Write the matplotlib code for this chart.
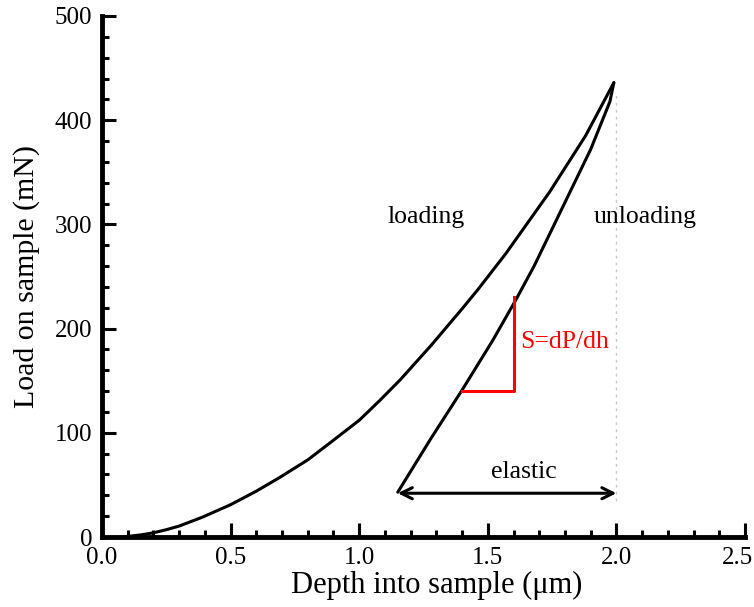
import matplotlib
matplotlib.use("Agg")
import matplotlib.pyplot as plt
from matplotlib.ticker import MultipleLocator
from matplotlib.transforms import ScaledTranslation

plt.rcParams['font.family'] = ['Liberation Serif', 'DejaVu Serif']

# data
loading_h = [0.08, 0.15, 0.20, 0.25, 0.30, 0.39, 0.50, 0.60, 0.69, 0.80, 0.89, 1.00, 1.08, 1.16,
             1.28, 1.40, 1.46, 1.57, 1.74, 1.88, 1.99]
loading_P = [0, 2, 4, 7, 10.5, 19, 31, 44, 57, 74, 91, 112, 131, 151,
             184, 219, 237, 272, 331, 385, 436]

unloading_h = [1.99, 1.975, 1.90, 1.79, 1.68, 1.61, 1.52, 1.40, 1.28, 1.15]
unloading_P = [436, 418, 372, 316, 260, 228, 189, 141, 95, 43]

tri_h = [1.40, 1.60, 1.60]
tri_P = [140, 140, 230]

guide_h = [2.0, 2.0]
guide_P = [35, 425]

arrow_h = [1.15, 2.0]
arrow_P = 42

xticks = [0.0, 0.5, 1.0, 1.5, 2.0, 2.5]
xticklabels = ['0.0', '0.5', '1.0', '1.5', '2.0', '2.5']
yticks = [0, 100, 200, 300, 400, 500]

fig = plt.figure(figsize=(7.54, 6.07), dpi=100)
ax = fig.add_axes([102/754, 1-537/607, (745-102)/754, (537-16)/607])

ax.plot(guide_h, guide_P, color='#c8c8c8', lw=1.0, linestyle=(0, (2, 3)))
ax.plot(loading_h, loading_P, color='black', lw=2.2, solid_joinstyle='round', solid_capstyle='round')
ax.plot(unloading_h, unloading_P, color='black', lw=2.2, solid_joinstyle='round', solid_capstyle='round')
ax.plot(tri_h, tri_P, color='red', lw=2.2)

ax.annotate('', xy=(arrow_h[0], arrow_P), xytext=(arrow_h[1], arrow_P),
            arrowprops=dict(arrowstyle='<->,head_length=0.8,head_width=0.4', color='black', lw=2.2,
                            shrinkA=0, shrinkB=0))

ax.text(1.26, 307, 'loading', fontsize=18.5, ha='center', va='center')
ax.text(2.11, 307, 'unloading', fontsize=18.5, ha='center', va='center')
ax.text(1.625, 187, 'S=dP/dh', fontsize=18.5, ha='left', va='center', color='red')
ax.text(1.64, 62, 'elastic', fontsize=18.5, ha='center', va='center')

ax.set_xlim(0, 2.5)
ax.set_ylim(0, 500)
ax.set_xticks(xticks)
ax.set_xticklabels(xticklabels)
ax.set_yticks(yticks)
ax.xaxis.set_minor_locator(MultipleLocator(0.1))
ax.yaxis.set_minor_locator(MultipleLocator(20))

for s in ['top', 'right']:
    ax.spines[s].set_visible(False)
for s in ['left', 'bottom']:
    ax.spines[s].set_linewidth(3.5)
    ax.spines[s].set_capstyle('projecting')

ax.tick_params(which='major', direction='in', length=10, width=2.2, labelsize=18, pad=7)
ax.tick_params(which='minor', direction='in', length=5, width=2.2)

last = ax.get_xticklabels()[-1]
last.set_ha('right')
last.set_transform(last.get_transform() + ScaledTranslation(8/100, 0, fig.dpi_scale_trans))

ax.set_xlabel('Depth into sample (μm)', fontsize=22)
ax.set_ylabel('Load on sample (mN)', fontsize=21.5)
ax.xaxis.set_label_coords(0.52, -0.066)
ax.yaxis.set_label_coords(-0.097, 0.5)

fig.savefig('out.png', dpi=100)
